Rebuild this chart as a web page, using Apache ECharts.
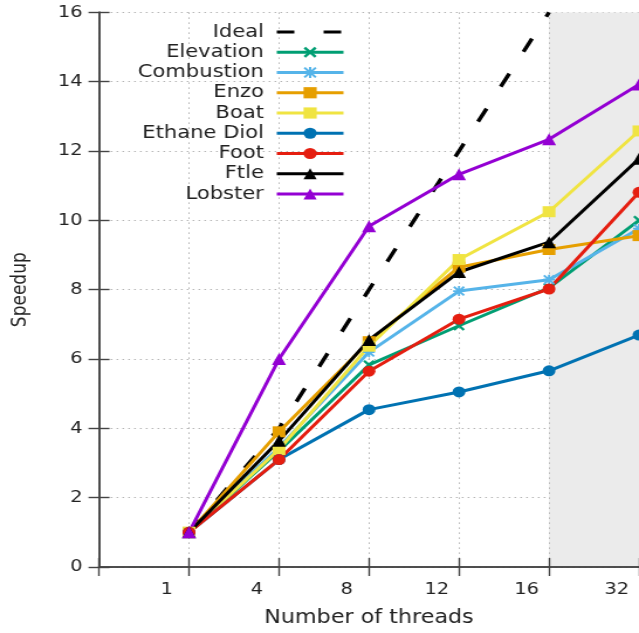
<!DOCTYPE html>
<html>
<head>
<meta charset="utf-8">
<script src="https://cdn.jsdelivr.net/npm/echarts@6/dist/echarts.min.js"></script>
<style>
html,body{margin:0;padding:0;background:#fff;overflow:hidden;}
#wrap{width:639px;height:633px;overflow:hidden;}
#chart{width:546px;height:633px;transform:scaleX(1.1703);transform-origin:0 0;}
</style>
</head>
<body>
<div id="wrap"><div id="chart"></div></div>
<script>
// Data
const threads = ['1', '4', '8', '12', '16', '32'];
const ideal = [1, 4, 8, 12, 16];
const elevation = [1, 3.35, 5.83, 6.96, 8.05, 10.0];
const combustion = [1, 3.45, 6.2, 7.96, 8.29, 9.76];
const enzo = [1, 3.9, 6.5, 8.65, 9.16, 9.56];
const boat = [1, 3.39, 6.37, 8.87, 10.25, 12.58];
const ethaneDiol = [1, 3.1, 4.54, 5.05, 5.66, 6.69];
const foot = [1, 3.1, 5.65, 7.15, 8.02, 10.81];
const ftle = [1, 3.64, 6.55, 8.51, 9.37, 11.78];
const lobster = [1, 6.0, 9.83, 11.33, 12.34, 13.92];
const yTicks = [0, 2, 4, 6, 8, 10, 12, 14, 16];

const toPts = arr => arr.map((v, i) => [i + 1, v]);
const FONT = 'DejaVu Sans';
const TXT = '#222';
const AX = '#444';

const crossPath = 'path://M0,1.6L1.6,0L5,3.4L8.4,0L10,1.6L6.6,5L10,8.4L8.4,10L5,6.6L1.6,10L0,8.4L3.4,5Z';
const starPath = 'path://M4.1,0L5.9,0L5.9,10L4.1,10Z M0,4.1L10,4.1L10,5.9L0,5.9Z M1.3,0L5,3.7L8.7,0L10,1.3L6.3,5L10,8.7L8.7,10L5,6.3L1.3,10L0,8.7L3.7,5L0,1.3Z';

function mk(name, data, color, symbol, size) {
  return {
    name: name, type: 'line', data: toPts(data),
    symbol: symbol, symbolSize: size,
    lineStyle: {color: color, width: 3},
    itemStyle: {color: color},
    emphasis: {disabled: true},
    animation: false
  };
}

const series = [
  {
    name: 'Ideal', type: 'line', data: toPts(ideal), symbol: 'none',
    lineStyle: {color: '#000', width: 3.5, type: [15, 25]},
    itemStyle: {color: '#000'}, animation: false
  },
  mk('Elevation', elevation, '#009e73', crossPath, 10),
  mk('Combustion', combustion, '#56b4e9', starPath, 10),
  mk('Enzo', enzo, '#e69f00', 'rect', 11),
  mk('Boat', boat, '#f0e442', 'rect', 11),
  mk('Ethane Diol', ethaneDiol, '#0072b2', 'circle', 11),
  mk('Foot', foot, '#e51e10', 'circle', 11),
  mk('Ftle', ftle, '#000000', 'triangle', 12),
  mk('Lobster', lobster, '#9400d3', 'triangle', 12)
];

const gridLine = {show: true, lineStyle: {color: '#b5b5b5', width: 1, type: [1.5, 3.5]}};

const legendData = series.map(s => s.name === 'Ideal'
  ? {name: s.name, itemStyle: {opacity: 0}}
  : {name: s.name});

const option = {
  backgroundColor: '#fff',
  animation: false,
  grid: {left: 84.6, right: -1, top: 12.4, bottom: 63},
  legend: {
    orient: 'vertical', align: 'right',
    right: 251, top: 23, padding: 0,
    itemWidth: 57, itemHeight: 14, itemGap: 2.25,
    selectedMode: false,
    lineStyle: {width: 3},
    textStyle: {fontFamily: FONT, fontSize: 18, color: TXT, lineHeight: 14, padding: [0, 6, 0, 0]},
    data: legendData
  },
  xAxis: [{
    type: 'value', min: 0, max: 6, interval: 1,
    name: 'Number of threads', nameLocation: 'middle', nameGap: 42,
    nameTextStyle: {fontFamily: FONT, fontSize: 19, color: TXT},
    axisLine: {show: true, lineStyle: {color: AX, width: 1.6}},
    axisTick: {show: true, inside: true, length: 9, lineStyle: {color: AX, width: 1.4}},
    axisLabel: {
      fontFamily: FONT, fontSize: 16.5, color: TXT, margin: 14,
      padding: [0, 38, 0, 0],
      formatter: v => (v >= 1 && v <= threads.length) ? threads[v - 1] : ''
    },
    splitLine: gridLine,
    splitArea: {show: true, areaStyle: {color: ['rgba(0,0,0,0)', 'rgba(0,0,0,0)', 'rgba(0,0,0,0)', 'rgba(0,0,0,0)', 'rgba(0,0,0,0)', '#ebebeb']}}
  }, {
    type: 'value', min: 0, max: 6, interval: 1, position: 'top',
    axisLine: {show: true, lineStyle: {color: AX, width: 1.6}},
    axisTick: {show: true, inside: true, length: 9, lineStyle: {color: AX, width: 1.4}},
    axisLabel: {show: false}, splitLine: {show: false}
  }],
  yAxis: [{
    type: 'value', min: yTicks[0], max: yTicks[yTicks.length - 1], interval: 2,
    name: 'Speedup', nameLocation: 'middle', nameGap: 59,
    nameTextStyle: {fontFamily: FONT, fontSize: 17, color: TXT},
    axisLine: {show: true, lineStyle: {color: AX, width: 1.6}},
    axisTick: {show: true, inside: true, length: 9, lineStyle: {color: AX, width: 1.4}},
    axisLabel: {fontFamily: FONT, fontSize: 16.5, color: TXT, margin: 14},
    splitLine: gridLine
  }, {
    type: 'value', min: yTicks[0], max: yTicks[yTicks.length - 1], interval: 2, position: 'right',
    axisLine: {show: true, lineStyle: {color: AX, width: 1.6}},
    axisTick: {show: true, inside: true, length: 9, lineStyle: {color: AX, width: 1.4}},
    axisLabel: {show: false}, splitLine: {show: false}
  }],
  series: series
};

const chart = echarts.init(document.getElementById('chart'), null, {renderer: 'canvas'});
chart.setOption(option);
</script>
</body>
</html>
